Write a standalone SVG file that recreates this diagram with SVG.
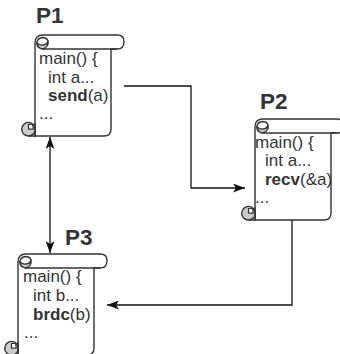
<svg xmlns="http://www.w3.org/2000/svg" width="340" height="354" viewBox="0 0 340 354">
<style>
.s{fill:#fff;stroke:#333;stroke-width:1.4}
.c{fill:#ccc;stroke:#333;stroke-width:1.4}
.w{fill:#fff;stroke:#333;stroke-width:1.2}
.n{fill:none;stroke:#333;stroke-width:1.4}
.t{font-family:"Liberation Sans",Arial,sans-serif;font-size:17px;fill:#333}
.h{font-family:"Liberation Sans",Arial,sans-serif;font-size:22.500px;font-weight:bold;fill:#333}
.b{font-weight:bold}
.l{fill:none;stroke:#111;stroke-width:1.300}
</style>
<defs>
<marker id="a" viewBox="0 0 12 9" refX="12" refY="4.500" markerWidth="12" markerHeight="9" markerUnits="userSpaceOnUse" orient="auto-start-reverse"><path d="M0 0L12 4.500L0 9L3 4.500Z" fill="#111"/></marker>
<g id="scroll">
<path class="s" d="M8 0H82Q89 0 89 6.500Q89 14 82 14H76V94Q76 101 69 101H0V8Q0 0 8 0Z"/>
<path class="n" d="M8 14H82"/>
<path class="n" d="M8 14Q2 13 2 8Q2 3 8 2.500Q13 3 13 7"/>
<path class="c" d="M8 14Q2 13 2 8Q5 10.500 8 10Q11 10 13 7Q14 11.500 8 14Z"/>
<circle class="c" cx="-6.500" cy="94.200" r="6.800"/>
<path class="w" d="M-6.500 94.200V89.500H-2.500Q-1.800 91.500 -1.800 94.200Z"/>
<path class="n" d="M-6.500 101H0V88"/>
</g>
</defs>
<g id="connectors">
<path class="l" d="M124 86H191V188H245" marker-end="url(#a)"/>
<path class="l" d="M292 220V305H107" marker-end="url(#a)"/>
<path class="l" d="M50 137V253" marker-start="url(#a)" marker-end="url(#a)"/>
</g>
<g id="P1">
<use href="#scroll" x="35" y="35"/>
<text class="h" x="36" y="23">P1</text>
<text class="t" x="39" y="64">main() {</text>
<text class="t" x="48" y="83">int a...</text>
<text class="t" x="48" y="101"><tspan class="b">send</tspan>(a)</text>
<text class="t" x="39" y="119">...</text>
</g>
<g id="P2">
<use href="#scroll" x="255" y="119"/>
<text class="h" x="260" y="109">P2</text>
<text class="t" x="255" y="148">main() {</text>
<text class="t" x="265" y="166">int a...</text>
<text class="t" x="265" y="185"><tspan class="b">recv</tspan>(&amp;a)</text>
<text class="t" x="255" y="203">...</text>
</g>
<g id="P3">
<use href="#scroll" x="18" y="254"/>
<text class="h" x="65" y="245">P3</text>
<text class="t" x="23" y="282">main() {</text>
<text class="t" x="33" y="301">int b...</text>
<text class="t" x="33" y="320"><tspan class="b">brdc</tspan>(b)</text>
<text class="t" x="24" y="338">...</text>
</g>
</svg>
